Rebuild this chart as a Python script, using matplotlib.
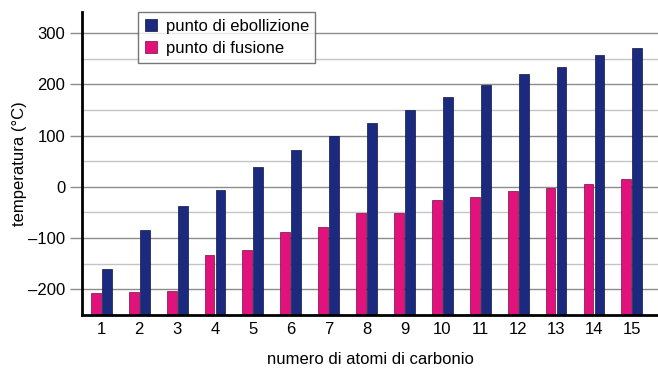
import matplotlib
matplotlib.use("Agg")
import matplotlib.pyplot as plt
import numpy as np

plt.rcParams['font.family'] = ['Liberation Sans', 'DejaVu Sans']

carbon_atoms = [1, 2, 3, 4, 5, 6, 7, 8, 9, 10, 11, 12, 13, 14, 15]
boiling = [-160, -85, -38, -6, 39, 71, 100, 124, 150, 176, 199, 220, 234, 257, 271]
melting = [-208, -205, -203, -132, -123, -88, -78, -51, -51, -25, -20, -8, -3, 6, 15]
y_ticks = [-200, -100, 0, 100, 200, 300]

blue = '#1b2a7f'
pink = '#e1127c'
base = -250

fig = plt.figure(figsize=(6.58, 3.69), dpi=100)
ax = fig.add_axes([82/658, 1-315/369, 1-82/658, (315-12)/369])

x = np.array(carbon_atoms)
w = 0.26
ax.bar(x - 0.145, np.array(melting) - base, bottom=base, width=w, color=pink,
       edgecolor='#7a0a45', linewidth=0.5, label='punto di fusione', zorder=3)
ax.bar(x + 0.145, np.array(boiling) - base, bottom=base, width=w, color=blue,
       edgecolor='#0d1545', linewidth=0.5, label='punto di ebollizione', zorder=3)

ax.set_xlim(0.49, 15.69)
ax.set_ylim(-250, 341)
ax.set_yticks(y_ticks)
ax.set_yticklabels([str(v).replace('-', '\u2013') for v in y_ticks])
ax.set_xticks(carbon_atoms)

for v in range(-200, 301, 100):
    ax.axhline(v, color='#8c8c8c', linewidth=1.0, zorder=1)
for v in range(-150, 301, 100):
    ax.axhline(v, color='#c4c4c4', linewidth=1.0, zorder=1)

for s in ['top', 'right']:
    ax.spines[s].set_visible(False)
ax.spines['left'].set_linewidth(2)
ax.spines['bottom'].set_linewidth(2)
ax.spines['left'].set_zorder(4)
ax.spines['bottom'].set_zorder(4)

ax.tick_params(axis='y', length=9, width=1, color='#8c8c8c', pad=3, labelsize=12)
ax.tick_params(axis='x', length=0, pad=5, labelsize=12)

ax.set_ylabel('temperatura (°C)', fontsize=12, labelpad=1)
ax.set_xlabel('numero di atomi di carbonio', fontsize=12, labelpad=11)

handles, labels = ax.get_legend_handles_labels()
leg = ax.legend(handles[::-1], labels[::-1], loc='upper left',
                bbox_to_anchor=((138-82)/(658-82), 1.0), fontsize=12,
                frameon=True, fancybox=False, edgecolor='#555555',
                handlelength=0.75, handleheight=0.75, handletextpad=0.5,
                borderpad=0.4, labelspacing=0.45, borderaxespad=0)
leg.get_frame().set_linewidth(1.0)
leg.set_zorder(5)

fig.savefig('out.png', dpi=100)
